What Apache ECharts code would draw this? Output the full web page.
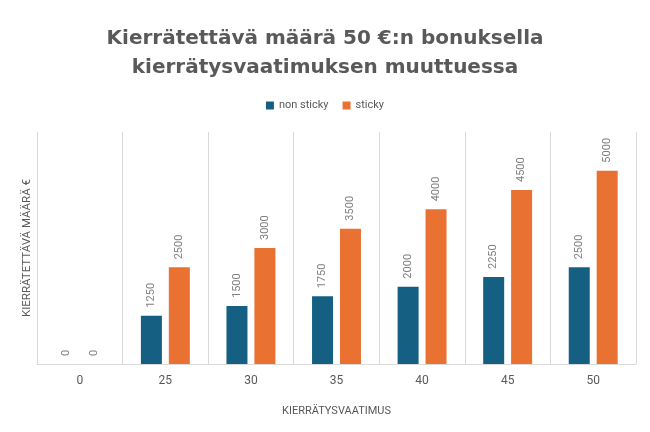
<!DOCTYPE html>
<html>
<head>
<meta charset="utf-8">
<script src="https://cdn.jsdelivr.net/npm/echarts@6/dist/echarts.min.js"></script>
<style>
  html, body { margin: 0; padding: 0; background: #fff; }
  #main { width: 650px; height: 432px; }
</style>
</head>
<body>
<div id="main"></div>
<script>
// kierrätysvaatimus (x)
var categories = ['0', '25', '30', '35', '40', '45', '50'];
// kierrätettävä määrä
var nonSticky = [0, 1250, 1500, 1750, 2000, 2250, 2500];
var sticky = [0, 2500, 3000, 3500, 4000, 4500, 5000];

var chart = echarts.init(document.getElementById('main'));

var labelStyle = {
  show: true,
  position: 'top',
  rotate: 90,
  align: 'left',
  verticalAlign: 'middle',
  distance: 8,
  color: '#7f7f7f',
  fontSize: 11,
  fontFamily: 'Roboto'
};

var option = {
  backgroundColor: '#fff',
  title: {
    text: 'Kierrätettävä määrä 50 €:n bonuksella\nkierrätysvaatimuksen muuttuessa',
    left: 'center',
    top: 19,
    textStyle: {
      fontFamily: 'DejaVu Sans',
      fontWeight: 'bold',
      fontSize: 20,
      lineHeight: 29,
      color: '#595959'
    }
  },
  legend: {
    top: 95,
    left: 'center',
    itemWidth: 8,
    itemHeight: 8,
    itemGap: 14,
    icon: 'rect',
    textStyle: { color: '#595959', fontSize: 11, fontFamily: 'Roboto' },
    data: ['non sticky', 'sticky']
  },
  grid: {
    left: 37,
    right: 14,
    top: 132,
    bottom: 68,
    containLabel: false
  },
  xAxis: {
    type: 'category',
    data: categories,
    name: 'KIERRÄTYSVAATIMUS',
    nameLocation: 'middle',
    nameGap: 42,
    nameTextStyle: { color: '#595959', fontSize: 11, fontFamily: 'Roboto' },
    axisLine: { show: true, lineStyle: { color: '#d9d9d9', width: 1 } },
    axisTick: { show: false },
    axisLabel: { color: '#595959', fontSize: 12, fontFamily: 'Roboto', margin: 11 },
    splitLine: { show: true, lineStyle: { color: '#d9d9d9', width: 1 } }
  },
  yAxis: {
    type: 'value',
    min: 0,
    max: 6000,
    interval: 1000,
    name: 'KIERRÄTETTÄVÄ MÄÄRÄ €',
    nameLocation: 'middle',
    nameGap: 4,
    nameTextStyle: { color: '#595959', fontSize: 11.5, fontFamily: 'Roboto' },
    axisLine: { show: false },
    axisTick: { show: false },
    axisLabel: { show: false },
    splitLine: { show: false }
  },
  series: [
    {
      name: 'non sticky',
      type: 'bar',
      data: nonSticky,
      barWidth: 21,
      barGap: '33%',
      itemStyle: { color: '#156082' },
      label: labelStyle
    },
    {
      name: 'sticky',
      type: 'bar',
      data: sticky,
      barWidth: 21,
      barGap: '33%',
      itemStyle: { color: '#e97132' },
      label: labelStyle
    }
  ]
};

chart.setOption(option);
</script>
</body>
</html>
